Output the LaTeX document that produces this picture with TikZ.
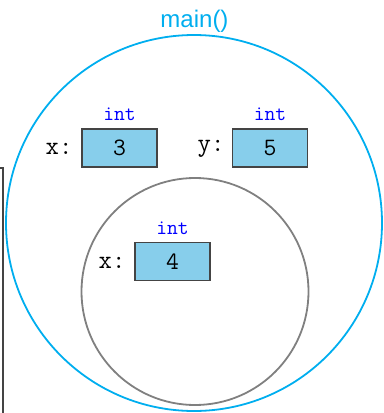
\documentclass[tikz,border=0pt]{standalone}
\usepackage{fontspec}
\newfontfamily\labelsans{Liberation Sans}
\definecolor{maincyan}{HTML}{00AEEF}
\definecolor{boxfill}{HTML}{87CEEB}
\definecolor{innergray}{HTML}{808080}
\definecolor{edgegray}{HTML}{444444}
\begin{document}
\begin{tikzpicture}[x=1bp,y=-1bp,
  valbox/.style={draw=edgegray,line width=1.1bp,fill=boxfill,minimum width=75bp,minimum height=38bp,inner sep=0pt,
    font=\ttfamily\fontsize{25bp}{26bp}\selectfont},
  typelbl/.style={text=blue,inner sep=0pt,font=\ttfamily\fontsize{21bp}{22bp}\selectfont},
  varlbl/.style={inner sep=0pt,font=\ttfamily\fontsize{26bp}{26bp}\selectfont},
  scopecircle/.style={circle,line width=1.8bp}]
\useasboundingbox (0,0) rectangle (384,413);
% partial frame at left edge
\draw[edgegray,line width=1.2bp] (0,168) -- (3,168) -- (3,413);
% scopes
\node[scopecircle,draw=maincyan,minimum size=376bp] (outer) at (194,223) {};
\node[scopecircle,draw=innergray,minimum size=227bp] (inner) at (195,291.5) {};
\node[anchor=base,text=maincyan,inner sep=0pt,font=\labelsans\fontsize{24bp}{26bp}\selectfont] (title) at (194.5,27) {main()};
% boxes
\node[valbox] (bx) at (119.5,148) {3};
\node[valbox] (by) at (270,148) {5};
\node[valbox] (bx2) at (172.5,261.5) {4};
% type labels
\node[typelbl] (tx) at (119.5,114) {int};
\node[typelbl] (ty) at (270,114) {int};
\node[typelbl] (tx2) at (172.5,228) {int};
% var labels
\node[varlbl] (lx) at (59,149) {x:};
\node[varlbl] (ly) at (211,149) {y:};
\node[varlbl] (lx2) at (112,263) {x:};
\end{tikzpicture}
\end{document}
